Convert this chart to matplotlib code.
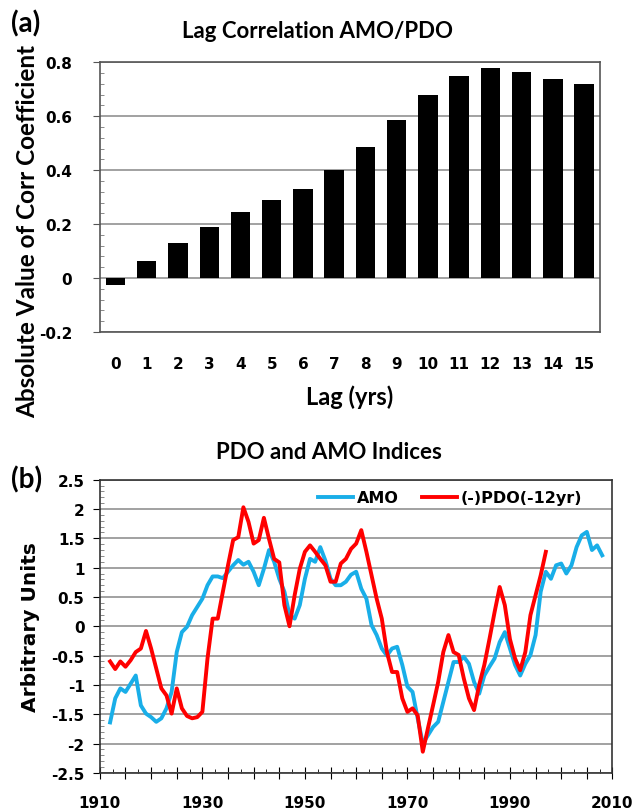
import numpy as np
import matplotlib.pyplot as plt
from matplotlib.ticker import MultipleLocator, FuncFormatter

plt.rcParams['font.family'] = ['Lato', 'DejaVu Sans']
plt.rcParams['font.weight'] = 'bold'

# panel (a): lag correlation
lags = list(range(16))
corr = [-0.025, 0.062, 0.13, 0.19, 0.245, 0.288, 0.33, 0.40,
        0.485, 0.587, 0.678, 0.75, 0.78, 0.765, 0.737, 0.718]

# panel (b): indices
amo_years = list(range(1912, 2009))
amo = [-1.64, -1.23, -1.06, -1.12, -0.98, -0.84, -1.35, -1.49,            # 1912-1919
       -1.55, -1.63, -1.57, -1.40, -1.12, -0.44, -0.10, -0.01, 0.19, 0.33,  # 1920s
       0.47, 0.70, 0.85, 0.85, 0.82, 0.93, 1.04, 1.13, 1.05, 1.10,        # 1930s
       0.93, 0.70, 0.98, 1.30, 1.10, 0.81, 0.59, 0.19, 0.13, 0.36,        # 1940s
       0.81, 1.15, 1.10, 1.35, 1.12, 0.81, 0.70, 0.70, 0.76, 0.88,        # 1950s
       0.93, 0.64, 0.47, 0.02, -0.15, -0.38, -0.50, -0.38, -0.35, -0.66,  # 1960s
       -1.03, -1.12, -1.57, -2.00, -1.86, -1.72, -1.63, -1.29, -0.95, -0.61,  # 1970s
       -0.61, -0.52, -0.64, -0.95, -1.15, -0.84, -0.69, -0.55, -0.27, -0.10,  # 1980s
       -0.38, -0.66, -0.84, -0.64, -0.49, -0.15, 0.59, 0.93, 0.81, 1.04,  # 1990s
       1.07, 0.90, 1.04, 1.35, 1.55, 1.61, 1.30, 1.38, 1.21]             # 2000s

pdo_years = list(range(1912, 1998))
pdo = [-0.60, -0.73, -0.60, -0.69, -0.58, -0.44, -0.38, -0.08,            # 1912-1919
       -0.38, -0.72, -1.06, -1.18, -1.49, -1.06, -1.40, -1.53, -1.57, -1.55,  # 1920s
       -1.46, -0.55, 0.13, 0.13, 0.59, 1.04, 1.47, 1.52, 2.03, 1.78,      # 1930s
       1.41, 1.47, 1.85, 1.49, 1.15, 1.09, 0.36, 0.0, 0.53, 0.98,         # 1940s
       1.27, 1.38, 1.27, 1.15, 1.04, 0.76, 0.76, 1.07, 1.15, 1.32,        # 1950s
       1.41, 1.64, 1.27, 0.87, 0.47, 0.13, -0.44, -0.78, -0.78, -1.23,    # 1960s
       -1.46, -1.40, -1.52, -2.14, -1.74, -1.35, -0.95, -0.44, -0.15, -0.44,  # 1970s
       -0.49, -0.89, -1.23, -1.43, -1.00, -0.66, -0.22, 0.24, 0.67, 0.36,  # 1980s
       -0.22, -0.55, -0.75, -0.44, 0.19, 0.53, 0.87, 1.27]               # 1990s

grid_col = '#9a9a9a'
tick_font = {'family': 'DejaVu Sans', 'weight': 'bold', 'size': 11}


def zero_fmt(v, p):
    return '0' if abs(v) < 1e-9 else f'{v:g}'


fig = plt.figure(figsize=(6.36, 8.12), dpi=100)

# ---- (a)
ax1 = fig.add_axes([0.157, 0.590, 0.786, 0.332])
ax1.bar(lags, corr, width=0.62, color='black', zorder=3)
ax1.set_xlim(-0.5, 15.5)
ax1.set_ylim(-0.2, 0.8)
ax1.yaxis.set_major_locator(MultipleLocator(0.2))
ax1.yaxis.set_minor_locator(MultipleLocator(0.04))
ax1.set_xticks(lags)
ax1.yaxis.set_major_formatter(FuncFormatter(lambda v, p: '0' if abs(v) < 1e-9 else f'{v:.1f}'))
ax1.grid(axis='y', color=grid_col, lw=1.3, zorder=0)
ax1.tick_params(axis='x', length=0, pad=17)
ax1.tick_params(axis='y', which='major', length=5, direction='out', pad=15, color='#555555')
ax1.tick_params(axis='y', which='minor', length=3, direction='in', color='#777777')
for lab in ax1.get_xticklabels() + ax1.get_yticklabels():
    lab.set_fontproperties(tick_font)
for s in ax1.spines.values():
    s.set_color('#555555')
    s.set_linewidth(1.2)
ax1.set_xlabel('Lag (yrs)', fontsize=17, fontweight='bold', labelpad=10)
# axis title sits lower than the axes centre, as in the source
fig.text(28 / 636, 1 - 231 / 812, 'Absolute Value of Corr Coefficient', fontsize=17.5,
         fontweight='bold', rotation=90, ha='center', va='center')
fig.text(0.499, 1 - 32 / 812, 'Lag Correlation AMO/PDO', fontsize=16, fontweight='bold',
         ha='center', va='center')
fig.text(0.018, 1 - 24 / 812, '(a)', fontsize=20, fontweight='bold', va='center')

# ---- (b)
ax2 = fig.add_axes([0.157, 0.047, 0.806, 0.361])
ax2.plot(amo_years, amo, color='#19aee8', lw=2.8, label='AMO', zorder=3)
ax2.plot(pdo_years, pdo, color='#ff0000', lw=2.8, label='(-)PDO(-12yr)', zorder=4)
ax2.set_xlim(1910, 2010)
ax2.set_ylim(-2.5, 2.5)
ax2.yaxis.set_major_locator(MultipleLocator(0.5))
ax2.yaxis.set_minor_locator(MultipleLocator(0.1))
ax2.xaxis.set_major_locator(MultipleLocator(5))
ax2.xaxis.set_minor_locator(MultipleLocator(2.5))
ax2.xaxis.set_major_formatter(FuncFormatter(lambda v, p: f'{int(v)}' if int(round(v)) % 20 == 10 else ''))
ax2.yaxis.set_major_formatter(FuncFormatter(zero_fmt))
ax2.grid(axis='y', color=grid_col, lw=1.3, zorder=0)
ax2.tick_params(axis='x', which='major', length=8, direction='inout', pad=12)
ax2.tick_params(axis='x', which='minor', length=3, direction='in')
ax2.tick_params(axis='y', which='major', length=5, direction='out', pad=6)
ax2.tick_params(axis='y', which='minor', length=3, direction='in', color='#777777')
for lab in ax2.get_xticklabels() + ax2.get_yticklabels():
    lab.set_fontproperties(tick_font)
for s in ax2.spines.values():
    s.set_color('#333333')
    s.set_linewidth(1.2)
ax2.set_ylabel('Arbitrary Units', fontsize=14.5, family='DejaVu Sans', fontweight='bold', labelpad=8)
fig.text(0.517, 1 - 453 / 812, 'PDO and AMO Indices', fontsize=16, fontweight='bold',
         ha='center', va='center')
ax2.legend(loc='center left', ncol=2, frameon=False,
           prop={'family': 'DejaVu Sans', 'weight': 'bold', 'size': 11.5},
           handlelength=2.2, handletextpad=0.25, columnspacing=1.4,
           borderpad=0, borderaxespad=0, bbox_to_anchor=(0.426, 0.938))
fig.text(0.018, 1 - 480 / 812, '(b)', fontsize=20, fontweight='bold', va='center')

fig.savefig('out.png', dpi=100)
